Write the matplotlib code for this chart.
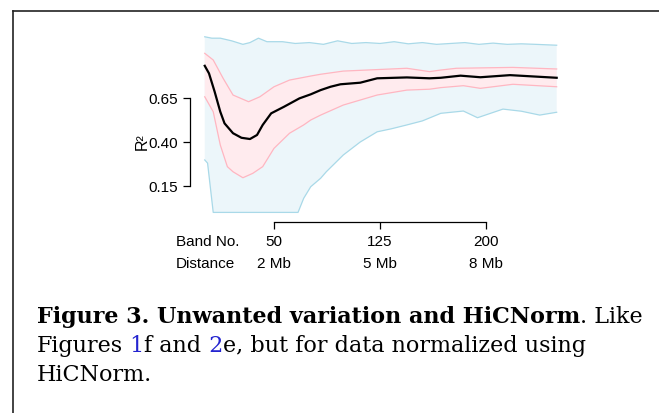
import numpy as np
import matplotlib.pyplot as plt
from matplotlib.lines import Line2D

plt.rcParams["font.family"] = ["Liberation Sans", "DejaVu Sans"]

# mean R^2 per band (black line)
mean_band = [1, 4, 8, 12, 15, 21, 27, 33, 38, 42, 48, 57, 68, 76, 83, 90, 97,
             111, 123, 144, 160, 168, 182, 196, 217, 250]
mean_r2 = [0.833, 0.79, 0.686, 0.572, 0.506, 0.45, 0.424, 0.417, 0.44, 0.497,
           0.563, 0.60, 0.648, 0.671, 0.695, 0.714, 0.728, 0.737, 0.762, 0.767,
           0.762, 0.765, 0.777, 0.768, 0.78, 0.765]

# inner band (pink)
pink_hi_band = [1, 7, 14, 21, 32, 40, 50, 61, 76, 83, 99, 144, 160, 168, 179, 219, 250]
pink_hi = [0.904, 0.866, 0.762, 0.667, 0.629, 0.657, 0.714, 0.752, 0.775, 0.785,
           0.803, 0.819, 0.80, 0.809, 0.819, 0.824, 0.815]
pink_lo_band = [1, 7, 12, 17, 21, 28, 35, 42, 50, 61, 71, 76, 83, 99, 123, 144,
                160, 168, 184, 196, 219, 250]
pink_lo = [0.657, 0.572, 0.383, 0.26, 0.231, 0.197, 0.222, 0.26, 0.364, 0.45,
           0.497, 0.525, 0.553, 0.61, 0.667, 0.695, 0.70, 0.709, 0.72, 0.705,
           0.728, 0.714]

# outer band (blue)
blue_hi_band = [1, 6, 12, 20, 28, 33, 39, 45, 56, 65, 75, 85, 95, 105, 115, 125,
                135, 145, 155, 165, 175, 185, 195, 205, 215, 225, 235, 250]
blue_hi = [0.998, 0.99, 0.99, 0.975, 0.955, 0.965, 0.99, 0.97, 0.97, 0.96, 0.965,
           0.955, 0.975, 0.96, 0.965, 0.96, 0.97, 0.958, 0.965, 0.955, 0.96,
           0.965, 0.955, 0.962, 0.955, 0.958, 0.955, 0.95]
blue_lo_band = [1, 3, 7, 67, 71, 76, 83, 87, 99, 111, 123, 133, 144, 155, 168,
                184, 194, 212, 225, 238, 250]
blue_lo = [0.298, 0.28, 0.0, 0.0, 0.08, 0.146, 0.194, 0.231, 0.326, 0.40, 0.458,
           0.475, 0.497, 0.52, 0.563, 0.576, 0.538, 0.587, 0.575, 0.553, 0.569]

band_ticks = [50, 125, 200]
dist_labels = ["2 Mb", "5 Mb", "8 Mb"]
r2_ticks = [0.15, 0.40, 0.65]

W, H = 659, 413
fig = plt.figure(figsize=(W / 100, H / 100), dpi=100)
ax = fig.add_axes([203.33 / W, 1 - 222 / H, 367.47 / W, 189.1 / H])
ax.set_xlim(0, 260)
ax.set_ylim(-0.0545, 1.02)

# shaded ranges
ax.fill(np.concatenate([blue_hi_band, blue_lo_band[::-1]]),
        np.concatenate([blue_hi, blue_lo[::-1]]), color="#ecf6fa", lw=0)
ax.plot(blue_hi_band, blue_hi, color="#a9d9e8", lw=0.9)
ax.plot(blue_lo_band, blue_lo, color="#a9d9e8", lw=0.9)
ax.fill(np.concatenate([pink_hi_band, pink_lo_band[::-1]]),
        np.concatenate([pink_hi, pink_lo[::-1]]), color="#ffebee", lw=0)
ax.plot(pink_hi_band, pink_hi, color="#ffb6c1", lw=0.9)
ax.plot(pink_lo_band, pink_lo, color="#ffb6c1", lw=0.9)
ax.plot(mean_band, mean_r2, color="black", lw=1.6)

# R-style axes
for s in ["top", "right"]:
    ax.spines[s].set_visible(False)
ax.spines["left"].set_position(("outward", 9.6))
ax.spines["left"].set_bounds(0.15, 0.65)
ax.spines["bottom"].set_bounds(50, 200)
for s in ["left", "bottom"]:
    ax.spines[s].set_linewidth(0.9)
ax.set_yticks(r2_ticks)
ax.set_yticklabels(["%.2f" % v for v in r2_ticks])
ax.set_xticks(band_ticks)
ax.set_xticklabels([])
ax.tick_params(length=5, width=0.9, labelsize=11, pad=3.6)

for b, d in zip(band_ticks, dist_labels):
    ax.text(b, -0.168, str(b), ha="center", va="center", fontsize=11)
    ax.text(b, -0.293, d, ha="center", va="center", fontsize=11)
ax.text(-19.3, -0.168, "Band No.", ha="left", va="center", fontsize=11)
ax.text(-19.3, -0.293, "Distance", ha="left", va="center", fontsize=11)
ax.text(-43.5, 0.40, "R²", rotation=90, ha="center", va="center", fontsize=11.5)

# frame of the figure box
fig.add_artist(Line2D([12.7 / W, 12.7 / W], [0, 1 - 11.3 / H], transform=fig.transFigure,
                      color="#222222", lw=1.2))
fig.add_artist(Line2D([12.7 / W, 1], [1 - 11.3 / H, 1 - 11.3 / H], transform=fig.transFigure,
                      color="#222222", lw=1.2))

# caption with mixed styles
renderer = fig.canvas.get_renderer()
serif = ["DejaVu Serif"]
cap_size = 16


def put_runs(x_px, y_px, runs):
    x = x_px
    for s, kw in runs:
        t = fig.text(x / W, 1 - y_px / H, s, ha="left", va="baseline",
                     family=serif, fontsize=cap_size, **kw)
        x += t.get_window_extent(renderer).width


link = "#2424d0"
put_runs(37, 323, [("Figure 3. Unwanted variation and HiCNorm", dict(weight="bold")),
                   (". Like", dict())])
put_runs(37, 352, [("Figures", dict()), (" 1", dict(color=link)), ("f and", dict()),
                   (" 2", dict(color=link)), ("e, but for data normalized using", dict())])
put_runs(37, 381, [("HiCNorm.", dict())])

fig.savefig("out.png", dpi=100)
